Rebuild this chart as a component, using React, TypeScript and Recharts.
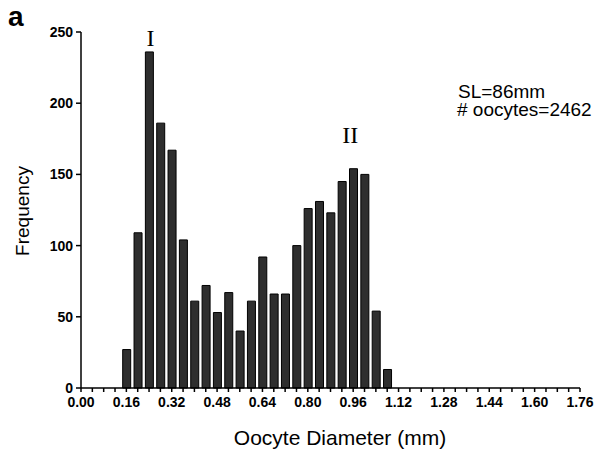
import React from "react";
import { BarChart, Bar, XAxis, YAxis, ReferenceDot } from "recharts";

const diameters = [0.16, 0.2, 0.24, 0.28, 0.32, 0.36, 0.4, 0.44, 0.48, 0.52, 0.56, 0.6, 0.64, 0.68, 0.72, 0.76, 0.8, 0.84, 0.88, 0.92, 0.96, 1.0, 1.04, 1.08];
const frequency = [27, 109, 236, 186, 167, 104, 61, 72, 53, 67, 40, 61, 92, 66, 66, 100, 126, 131, 123, 145, 154, 150, 54, 13];

const xTicks = [0, 0.04, 0.08, 0.12, 0.16, 0.2, 0.24, 0.28, 0.32, 0.36, 0.4, 0.44, 0.48, 0.52, 0.56, 0.6, 0.64, 0.68, 0.72, 0.76, 0.8, 0.84, 0.88, 0.92, 0.96, 1.0, 1.04, 1.08, 1.12, 1.16, 1.2, 1.24, 1.28, 1.32, 1.36, 1.4, 1.44, 1.48, 1.52, 1.56, 1.6, 1.64, 1.68, 1.72, 1.76];
const xLabelled = [0, 0.16, 0.32, 0.48, 0.64, 0.8, 0.96, 1.12, 1.28, 1.44, 1.6, 1.76];
const yTicks = [0, 50, 100, 150, 200, 250];

const modeLabels = [
  { x: 0.245, y: 240, text: "I" },
  { x: 0.95, y: 172, text: "II" },
];

const data = diameters.map((d, i) => ({ d, f: frequency[i] }));

const isLabelled = (v: number) => xLabelled.some((l) => Math.abs(l - v) < 1e-6);

const sans = "'Liberation Sans', Arial, sans-serif";

const ModeText = (props: any) => {
  const { cx, cy, text } = props;
  return (
    <text x={cx} y={cy} textAnchor="middle" fontFamily="'Liberation Serif', 'DejaVu Serif', serif" fontSize={24} fill="#000">
      {text}
    </text>
  );
};

const XTick = (props: any) => {
  const { x, y, payload } = props;
  const v = payload.value as number;
  if (!isLabelled(v)) return null;
  return (
    <text x={x} y={y + 1} dy="0.71em" textAnchor="middle" fontFamily={sans} fontSize={14} fontWeight="bold" fill="#000">
      {v.toFixed(2)}
    </text>
  );
};

const YTick = (props: any) => {
  const { x, y, payload } = props;
  return (
    <text x={x} y={y} dy="0.355em" textAnchor="end" fontFamily={sans} fontSize={14} fontWeight="bold" fill="#000">
      {payload.value}
    </text>
  );
};

export default function App() {
  return (
    <div style={{ position: "absolute", left: 0, top: 0, width: 604, height: 454, background: "#fff" }}>
      <BarChart width={604} height={454} data={data} margin={{ top: 32, right: 24, bottom: 36, left: 31 }}>
        <XAxis
          dataKey="d"
          type="number"
          domain={[0, 1.76]}
          ticks={xTicks}
          interval={0}
          height={30}
          tickSize={4}
          tickMargin={4}
          stroke="#000"
          strokeWidth={1.5}
          tick={<XTick />}
          allowDataOverflow
        />
        <YAxis
          type="number"
          domain={[0, 250]}
          ticks={yTicks}
          interval={0}
          width={50}
          tickSize={5}
          tickMargin={3}
          stroke="#000"
          strokeWidth={1.5}
          tick={<YTick />}
        />
        <Bar dataKey="f" barSize={8} fill="#2e2e2e" stroke="#000" strokeWidth={1} isAnimationActive={false} />
        {modeLabels.map((m) => (
          <ReferenceDot
            key={m.text}
            x={m.x}
            y={m.y}
            r={0}
            ifOverflow="visible"
            shape={(p: any) => <ModeText {...p} text={m.text} />}
          />
        ))}
      </BarChart>
      <svg width={604} height={454} style={{ position: "absolute", left: 0, top: 0, pointerEvents: "none" }}>
        <text x={8} y={26} fontFamily={sans} fontWeight="bold" fontSize={28} fill="#000">a</text>
        <text transform="translate(29,211) rotate(-90)" textAnchor="middle" fontFamily={sans} fontSize={19} fill="#000">Frequency</text>
        <text x={340} y={445} textAnchor="middle" fontFamily={sans} fontSize={21} fill="#000">Oocyte Diameter (mm)</text>
        <text x={458} y={98} fontFamily={sans} fontSize={19} fill="#000">SL=86mm</text>
        <text x={457} y={116} fontFamily={sans} fontSize={19} fill="#000"># oocytes=2462</text>
      </svg>
    </div>
  );
}
